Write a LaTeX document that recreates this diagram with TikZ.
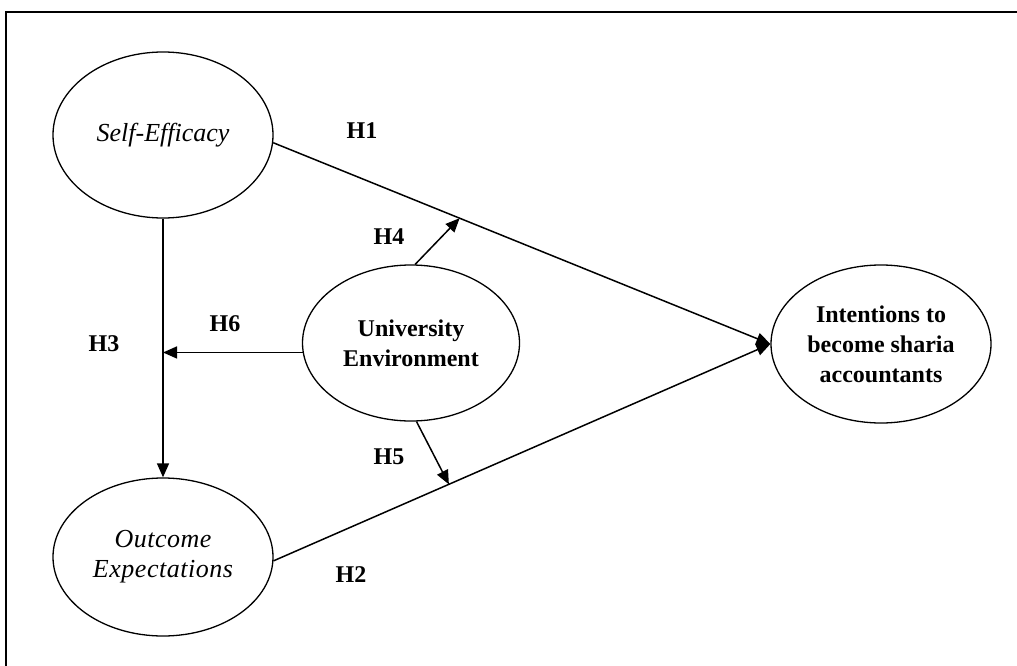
\documentclass[tikz,border=0pt]{standalone}
\usepackage{fontspec}
\setmainfont{Liberation Serif}
\usetikzlibrary{calc,arrows.meta,shapes.geometric}
\begin{document}
\begin{tikzpicture}[x=1pt,y=-1pt,
  construct/.style={ellipse,draw,line width=1.3pt,inner sep=0pt,align=center,
     font=\fontsize{24}{30}\selectfont},
  italiclabel/.style={font=\itshape\fontsize{26}{30}\selectfont},
  hyp/.style={font=\bfseries\fontsize{24}{30}\selectfont,inner sep=0pt},
  link/.style={line width=1.5pt,-{Triangle[length=14pt,width=12pt]}},
  frameline/.style={line width=1.3pt}]
\useasboundingbox (0,0) rectangle (1017,666);
\draw[frameline] (6,666) -- (6,12) -- (1017,12);
\node[construct,italiclabel,minimum width=220pt,minimum height=166pt] (se) at (163,135) {Self-Efficacy};
\node[construct,italiclabel,minimum width=220pt,minimum height=158pt] (oe) at (163,557) {\addfontfeature{LetterSpace=2}Outcome\\\addfontfeature{LetterSpace=2}Expectations};
\node[construct,minimum width=217pt,minimum height=156pt] (ue) at (411,343) {\bfseries University\\\bfseries Environment};
\node[construct,minimum width=220pt,minimum height=158pt] (int) at (881,344) {\bfseries Intentions to\\\bfseries become sharia\\\bfseries accountants};
\coordinate (h4) at ($(se.-4)!0.375!(int.west)$);
\coordinate (h5) at ($(oe.-2)!0.353!(int.west)$);
\draw[link] (se.-4) -- (int.west);
\draw[link] (oe.-2) -- (int.west);
\draw[link] (se.south) -- (oe.north);
\draw[link] (ue.185) -- (ue.185 -| se.south);
\draw[link] (ue.87) -- (h4);
\draw[link] (ue.-86) -- (h5);
\node[hyp] (l1) at (362,131) {H1};
\node[hyp] (l4) at (389,237) {H4};
\node[hyp] (l6) at (225,324) {H6};
\node[hyp] (l3) at (104,344) {H3};
\node[hyp] (l5) at (389,457) {H5};
\node[hyp] (l2) at (351,575) {H2};
\end{tikzpicture}
\end{document}
